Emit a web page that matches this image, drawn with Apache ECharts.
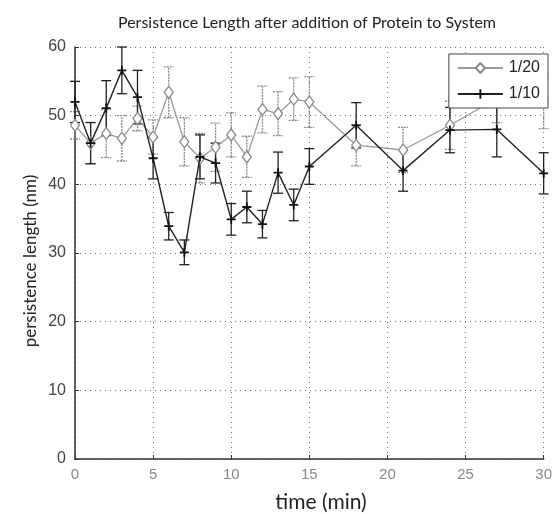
<!DOCTYPE html>
<html><head><meta charset="utf-8">
<script src="https://cdn.jsdelivr.net/npm/echarts@6/dist/echarts.min.js"></script>
<style>html,body{margin:0;padding:0;background:#fff}#c{width:555px;height:514px}</style>
</head><body><div id="c"></div>
<script>
const times = [0,1,2,3,4,5,6,7,8,9,10,11,12,13,14,15,18,21,24,27,30];
const s20 = [48.6,46,47.4,46.7,49.6,46.9,53.4,46.2,43.8,45.4,47.2,44,50.9,50.3,52.4,52,45.7,45,48.6,52.5,52.1];
const e20 = [2,3,3.5,3.3,1.8,2.5,3.7,3.5,3.6,3.5,3.2,3,3.4,3.2,3.1,3.7,3,3.3,3.5,3.5,4];
const s10 = [52,46,51.1,56.6,52.7,43.8,33.9,30.1,44,43.1,34.9,36.7,34.2,41.7,37,42.6,48.6,42,47.9,48,41.6];
const e10 = [3,3,4,3.4,3.9,3,2,1.8,3.2,2.9,2.3,2.3,2,3,2.3,2.6,3.3,3,3.3,4,3];
const names = ['1/20','1/10'];
const titleText = 'Persistence Length after addition of Protein to System';
const xName = 'time (min)';
const yName = 'persistence length (nm)';
const narrow = 'Liberation Sans Narrow, Liberation Sans, sans-serif';

function errSeries(vals, errs, color, dashed){
  return {
    type:'custom', silent:true, z:1,
    data: times.map((t,i)=>[t, vals[i]-errs[i], vals[i]+errs[i]]),
    renderItem:function(params, api){
      const lo = api.coord([api.value(0), api.value(1)]);
      const hi = api.coord([api.value(0), api.value(2)]);
      const w = 5;
      const st = {stroke:color, lineWidth:1.3, lineDash: dashed ? [2,1] : null};
      return {type:'group', children:[
        {type:'line', shape:{x1:lo[0],y1:lo[1],x2:hi[0],y2:hi[1]}, style:st},
        {type:'line', shape:{x1:lo[0]-w,y1:lo[1],x2:lo[0]+w,y2:lo[1]}, style:st},
        {type:'line', shape:{x1:hi[0]-w,y1:hi[1],x2:hi[0]+w,y2:hi[1]}, style:st}
      ]};
    }
  };
}

const chart = echarts.init(document.getElementById('c'), null, {renderer:'canvas'});
chart.setOption({
  animation:false,
  backgroundColor:'#fff',
  title:{text:titleText, left:302, textAlign:'center', top:10,
    textStyle:{fontFamily:'Lato', fontSize:16, fontWeight:'normal', color:'#222'}},
  grid:{left:75, right:4, top:47, bottom:55},
  graphic:[
    {type:'text', x:31, y:261, rotation:Math.PI/2, z:10,
      style:{text:yName, textAlign:'center', textVerticalAlign:'middle', fontFamily:'Lato', fontSize:17, fill:'#222'}},
    {type:'text', x:321, y:502, z:10,
      style:{text:xName, textAlign:'center', textVerticalAlign:'middle', fontFamily:'Lato', fontSize:21, fill:'#222'}}
  ],
  legend:{
    right:7, top:54, orient:'vertical', itemWidth:45, itemHeight:12, itemGap:10,
    padding:[6,8,6,8],
    borderColor:'#444', borderWidth:1, backgroundColor:'#fff',
    textStyle:{fontFamily:narrow, fontSize:16, color:'#222', padding:[0,0,0,1]},
    data:names
  },
  xAxis:{type:'value', min:0, max:30, interval:5,
    axisLine:{lineStyle:{color:'#333', width:1.5}},
    axisTick:{inside:true, length:4, lineStyle:{color:'#333'}},
    axisLabel:{fontFamily:narrow, fontSize:15, color:'#888', margin:8},
    splitLine:{show:true, lineStyle:{type:[1,4], color:'#777'}}
  },
  yAxis:{type:'value', min:0, max:60, interval:10,
    axisLine:{show:true, lineStyle:{color:'#333', width:1.5}},
    axisTick:{show:true, inside:true, length:4, lineStyle:{color:'#333'}},
    axisLabel:{fontFamily:narrow, fontSize:16, color:'#444', margin:9},
    splitLine:{show:true, lineStyle:{type:[1,4], color:'#777'}}
  },
  series:[
    errSeries(s20, e20, '#888', true),
    errSeries(s10, e10, '#222', false),
    {name:names[0], type:'line', z:3, data:times.map((t,i)=>[t,s20[i]]),
      symbol:'diamond', symbolSize:[9,12], showAllSymbol:true,
      lineStyle:{color:'#999', width:1.3},
      itemStyle:{color:'#fff', borderColor:'#888', borderWidth:1.3}},
    {name:names[1], type:'line', z:4, data:times.map((t,i)=>[t,s10[i]]),
      symbol:'path://M4,0h2v4h4v2h-4v4h-2v-4h-4v-2h4z', symbolSize:9, showAllSymbol:true,
      lineStyle:{color:'#222', width:1.4},
      itemStyle:{color:'#111'}}
  ]
});
</script></body></html>
